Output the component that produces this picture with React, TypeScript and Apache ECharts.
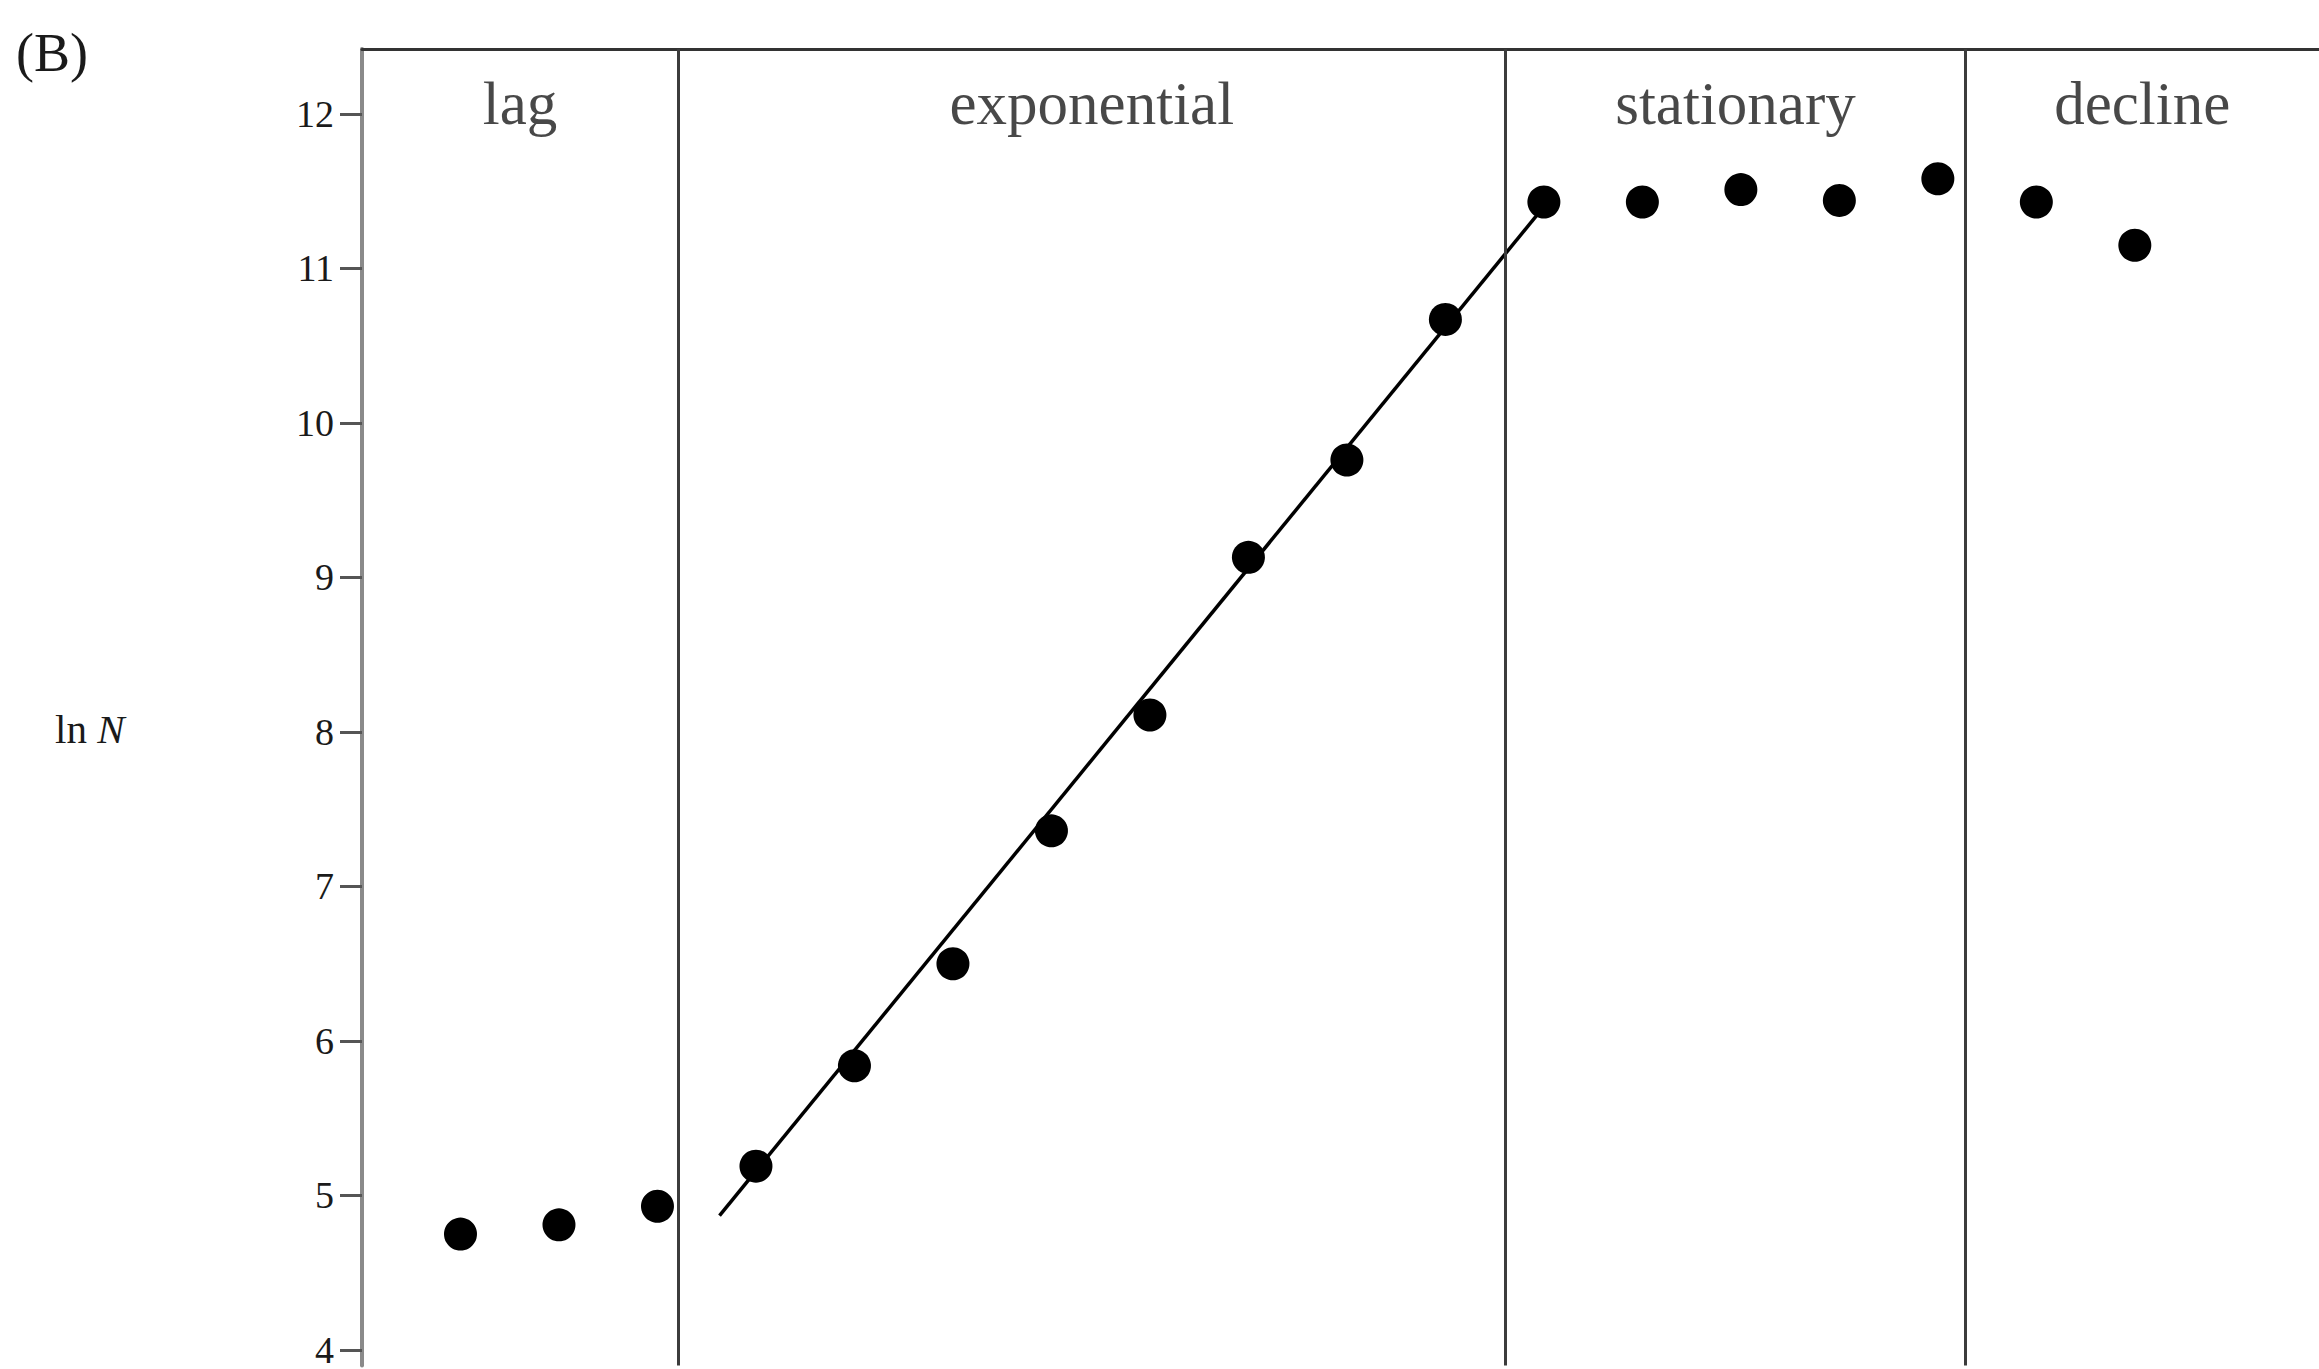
import React, { useEffect, useRef } from "react";
import * as echarts from "echarts";

// Time steps (one point per step) and ln N values
const timeSteps = [1, 2, 3, 4, 5, 6, 7, 8, 9, 10, 11, 12, 13, 14, 15, 16, 17, 18];
const lnN = [4.75, 4.81, 4.93, 5.19, 5.84, 6.5, 7.36, 8.11, 9.13, 9.76, 10.67, 11.43, 11.43, 11.51, 11.44, 11.58, 11.43, 11.15];

// Fitted line through the exponential phase (end points)
const fitLine = [
  [3.63, 4.87],
  [12.0, 11.4],
];

// Phase boundaries (x) and phase names
const phaseBounds = [0, 3.21, 11.61, 16.28, 19.87];
const phaseNames = ["lag", "exponential", "stationary", "decline"];
const phaseLabelY = 12.07;

// Y tick labels
const yTicks = [4, 5, 6, 7, 8, 9, 10, 11, 12];

const SERIF = "'Liberation Serif', 'DejaVu Serif', serif";

export default function App() {
  const ref = useRef<HTMLDivElement>(null);

  useEffect(() => {
    if (!ref.current) return;
    const chart = echarts.init(ref.current, undefined, { renderer: "svg" });

    const phaseLabelData = phaseNames.map((name, i) => ({
      name,
      value: [(phaseBounds[i] + phaseBounds[i + 1]) / 2, phaseLabelY],
    }));

    chart.setOption({
      animation: false,
      backgroundColor: "#ffffff",
      grid: { left: 362, top: 49, right: 0, bottom: 0, containLabel: false },
      xAxis: [
        {
          type: "value",
          min: 0,
          max: 19.87,
          position: "top",
          axisLine: { show: true, onZero: false, lineStyle: { color: "#333333", width: 3 } },
          axisTick: { show: false },
          axisLabel: { show: false },
          splitLine: { show: false },
        },
      ],
      yAxis: {
        type: "value",
        min: 3.9,
        max: 12.42,
        axisLine: { show: true, lineStyle: { color: "#8a8a8a", width: 4 } },
        axisTick: {
          show: true,
          length: 22,
          customValues: yTicks,
          lineStyle: { color: "#555555", width: 3 },
        },
        axisLabel: {
          show: true,
          customValues: yTicks,
          margin: 28,
          fontFamily: SERIF,
          fontSize: 38,
          color: "#1a1a1a",
        },
        splitLine: { show: false },
      },
      graphic: [
        {
          type: "text",
          left: 16,
          top: 26,
          style: { text: "(B)", font: `54px ${SERIF}`, fill: "#1a1a1a" },
        },
        {
          type: "text",
          left: 55,
          top: 708,
          style: {
            text: "{a|ln }{b|N}",
            rich: {
              a: { fontFamily: SERIF, fontSize: 41, fill: "#1a1a1a" },
              b: { fontFamily: SERIF, fontSize: 41, fontStyle: "italic", fill: "#1a1a1a" },
            },
          },
        },
      ],
      series: [
        {
          type: "scatter",
          data: timeSteps.map((t, i) => [t, lnN[i]]),
          symbol: "circle",
          symbolSize: 33,
          itemStyle: { color: "#000000", opacity: 1 },
          z: 5,
          markLine: {
            silent: true,
            symbol: "none",
            label: { show: false },
            lineStyle: { color: "#3c3c3c", width: 3, type: "solid", opacity: 1 },
            data: phaseBounds.slice(1, 4).map((x) => ({ xAxis: x })),
          },
        },
        {
          type: "line",
          data: fitLine,
          symbol: "none",
          lineStyle: { color: "#000000", width: 3.5 },
          z: 4,
        },
        {
          type: "scatter",
          data: phaseLabelData,
          symbolSize: 1,
          itemStyle: { color: "rgba(0,0,0,0)" },
          label: {
            show: true,
            position: "inside",
            formatter: (p: any) => p.name,
            fontFamily: SERIF,
            fontSize: 61,
            color: "#1a1a1a",
          },
        },
      ],
    });

    return () => chart.dispose();
  }, []);

  return (
    <div
      ref={ref}
      style={{ position: "fixed", left: 0, top: 0, width: 2319, height: 1369 }}
    />
  );
}
